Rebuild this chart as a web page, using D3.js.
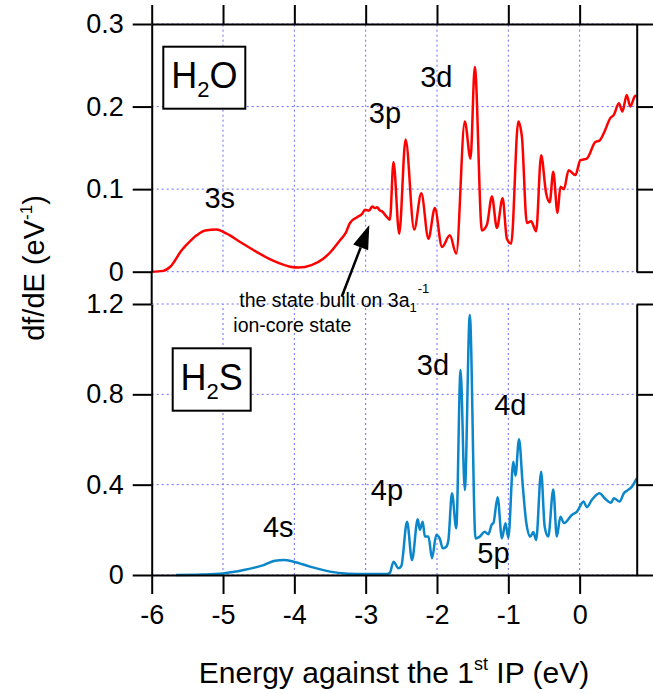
<!DOCTYPE html>
<html><head><meta charset="utf-8">
<script src="https://cdn.jsdelivr.net/npm/d3@7"></script>
<style>
body{margin:0;background:#fff}
text{font-family:"Liberation Sans",Arial,Helvetica,sans-serif;fill:#000}
</style>
</head><body><script>
// ---------- data ----------
const xTicks = [-6, -5, -4, -3, -2, -1, 0];
const yTicksTop = [0, 0.1, 0.2, 0.3];
const yTicksBottom = [0, 0.4, 0.8, 1.2];

const energyH2O = [-6.00,-5.84,-5.74,-5.58,-5.45,-5.37,-5.25,-5.09,-4.95,-4.76,-4.53,-4.29,-4.06,-3.94,-3.76,-3.59,-3.47,-3.36,-3.28,-3.22,-3.12,-3.05,-3.01,-2.95,-2.91,-2.87,-2.84,-2.80,-2.77,-2.70,-2.66,-2.61,-2.53,-2.44,-2.32,-2.22,-2.12,-2.03,-1.93,-1.82,-1.73,-1.61,-1.53,-1.47,-1.37,-1.30,-1.23,-1.16,-1.08,-1.02,-0.96,-0.86,-0.81,-0.74,-0.68,-0.61,-0.54,-0.47,-0.42,-0.37,-0.31,-0.27,-0.22,-0.155,-0.06,0.01,0.10,0.22,0.28,0.34,0.43,0.48,0.55,0.60,0.66,0.71,0.78,0.80];
const dfH2O = [0.000,0.001,0.006,0.026,0.038,0.044,0.050,0.051,0.046,0.036,0.024,0.013,0.006,0.005,0.008,0.016,0.026,0.038,0.047,0.059,0.066,0.070,0.075,0.074,0.079,0.077,0.078,0.074,0.073,0.066,0.063,0.133,0.046,0.160,0.051,0.095,0.040,0.077,0.030,0.044,0.022,0.182,0.137,0.248,0.050,0.057,0.091,0.053,0.089,0.040,0.034,0.182,0.164,0.059,0.061,0.049,0.141,0.095,0.084,0.121,0.071,0.103,0.100,0.123,0.117,0.135,0.137,0.157,0.159,0.168,0.186,0.190,0.204,0.194,0.214,0.200,0.213,0.212];

const energyH2S = [-5.66,-5.30,-5.00,-4.71,-4.43,-4.27,-4.15,-4.01,-3.78,-3.50,-3.25,-3.03,-2.70,-2.66,-2.61,-2.54,-2.50,-2.42,-2.35,-2.27,-2.24,-2.20,-2.17,-2.12,-2.07,-2.01,-1.96,-1.92,-1.87,-1.84,-1.79,-1.73,-1.67,-1.61,-1.54,-1.46,-1.40,-1.33,-1.28,-1.23,-1.21,-1.15,-1.09,-1.04,-1.00,-0.93,-0.90,-0.85,-0.80,-0.75,-0.69,-0.65,-0.61,-0.54,-0.49,-0.44,-0.37,-0.32,-0.27,-0.22,-0.11,-0.04,0.056,0.10,0.17,0.28,0.35,0.44,0.48,0.56,0.62,0.68,0.73,0.80];
const dfH2S = [0.000,0.002,0.007,0.022,0.044,0.063,0.066,0.059,0.037,0.015,0.006,0.004,0.004,0.010,0.059,0.030,0.040,0.236,0.066,0.247,0.200,0.236,0.170,0.170,0.074,0.177,0.160,0.118,0.125,0.155,0.362,0.207,0.908,0.376,1.151,0.162,0.170,0.192,0.180,0.225,0.229,0.344,0.162,0.229,0.165,0.502,0.440,0.601,0.406,0.236,0.170,0.190,0.155,0.457,0.214,0.170,0.379,0.170,0.258,0.230,0.266,0.280,0.325,0.300,0.332,0.362,0.340,0.320,0.340,0.325,0.362,0.377,0.390,0.428];

// ---------- setup ----------
const W = 653, H = 694;
const svg = d3.select("body").append("svg").attr("width", W).attr("height", H);
svg.append("rect").attr("width", W).attr("height", H).attr("fill", "#fff");

const x = d3.scaleLinear().domain([-6, 0.8]).range([151.7, 636.7]);
const yTop = d3.scaleLinear().domain([0, 0.3]).range([271.7, 24]);
const yBot = d3.scaleLinear().domain([0, 1.2]).range([575, 304]);

const gridColor = "#6b6bff";
function grid(y, yt) {
  const g = svg.append("g");
  g.selectAll("line.v").data(xTicks.filter(d => d !== -6)).join("line")
    .attr("x1", d => x(d)).attr("x2", d => x(d))
    .attr("y1", y.range()[0]).attr("y2", y.range()[1])
    .attr("stroke", gridColor).attr("stroke-width", 1).attr("stroke-dasharray", "2,3");
  g.selectAll("line.h").data(yt).join("line")
    .attr("x1", x.range()[0]).attr("x2", x.range()[1])
    .attr("y1", d => y(d)).attr("y2", d => y(d))
    .attr("stroke", gridColor).attr("stroke-width", 1).attr("stroke-dasharray", "2,3");
}
grid(yTop, yTicksTop);
grid(yBot, yTicksBottom);

// ---------- lines ----------
const h2o = energyH2O.map((e, i) => [e, dfH2O[i]]);
const h2s = energyH2S.map((e, i) => [e, dfH2S[i]]);
svg.append("path").datum(h2o)
  .attr("d", d3.line().x(d => x(d[0])).y(d => yTop(d[1])).curve(d3.curveMonotoneX))
  .attr("fill", "none").attr("stroke", "#ff0000").attr("stroke-width", 2.5).attr("stroke-linejoin", "round");
svg.append("path").datum(h2s)
  .attr("d", d3.line().x(d => x(d[0])).y(d => yBot(d[1])).curve(d3.curveMonotoneX))
  .attr("fill", "none").attr("stroke", "#0a86c9").attr("stroke-width", 2.5).attr("stroke-linejoin", "round");

// ---------- axes ----------
const fmt = d => d === 0 ? "0" : d.toFixed(1);
function style(g) {
  g.select(".domain").attr("stroke", "#000").attr("stroke-width", 2);
  g.selectAll(".tick line").attr("stroke", "#000").attr("stroke-width", 2);
  g.selectAll(".tick text").attr("font-size", 27).attr("fill", "#000")
    .attr("font-family", "'Liberation Sans',Arial,Helvetica,sans-serif");
}
svg.append("g").attr("transform", "translate(151.7,0)")
  .call(d3.axisLeft(yTop).tickValues(yTicksTop).tickSize(19).tickSizeOuter(0).tickPadding(9).tickFormat(fmt)).call(style);
svg.append("g").attr("transform", "translate(151.7,0)")
  .call(d3.axisLeft(yBot).tickValues(yTicksBottom).tickSize(19).tickSizeOuter(0).tickPadding(9).tickFormat(fmt)).call(style);
svg.append("g").attr("transform", "translate(636.7,0)")
  .call(d3.axisRight(yTop).tickValues(yTicksTop).tickSize(19).tickSizeOuter(0).tickFormat("")).call(style);
svg.append("g").attr("transform", "translate(636.7,0)")
  .call(d3.axisRight(yBot).tickValues(yTicksBottom).tickSize(19).tickSizeOuter(0).tickFormat("")).call(style);
svg.append("g").attr("transform", "translate(0,24)")
  .call(d3.axisTop(x).tickValues(xTicks).tickSize(19).tickSizeOuter(0).tickFormat("")).call(style);
svg.append("g").attr("transform", "translate(0,575)")
  .call(d3.axisBottom(x).tickValues(xTicks).tickSize(19).tickSizeOuter(0).tickPadding(11).tickFormat(d => String(d))).call(style);
// connect left axis across the gap
svg.append("line").attr("x1", x(-6)).attr("x2", x(-6)).attr("y1", yTop(0)).attr("y2", yBot(1.2))
  .attr("stroke", "#000").attr("stroke-width", 2);

// ---------- axis titles ----------
const yl = svg.append("text").attr("transform", "translate(44,268) rotate(-90)")
  .attr("text-anchor", "middle").attr("font-size", 29);
yl.append("tspan").text("df/dE (eV");
yl.append("tspan").attr("font-size", 17).attr("dy", -12).text("-1");
yl.append("tspan").attr("dy", 12).text(")");

const xl = svg.append("text").attr("x", 394).attr("y", 683).attr("text-anchor", "middle").attr("font-size", 30);
xl.append("tspan").text("Energy against the 1");
xl.append("tspan").attr("font-size", 18).attr("dy", -13).text("st");
xl.append("tspan").attr("dy", 13).text(" IP (eV)");

// ---------- molecule boxes ----------
function box(x0, y0, w, h, cx, by, main2) {
  svg.append("rect").attr("x", x0).attr("y", y0).attr("width", w).attr("height", h)
    .attr("fill", "#fff").attr("stroke", "#000").attr("stroke-width", 2);
  const t = svg.append("text").attr("x", cx).attr("y", by).attr("text-anchor", "middle").attr("font-size", 36);
  t.append("tspan").text("H");
  t.append("tspan").attr("font-size", 22).attr("dy", 9).text("2");
  t.append("tspan").attr("dy", -9).text(main2);
}
box(163.3, 46.7, 82, 62, 204.3, 87.5, "O");
box(172.7, 348.3, 78, 62.4, 211.7, 389.5, "S");

// ---------- peak labels ----------
const peakLabels = [
  ["3s", 219.7, 208.3], ["3p", 385, 123.3], ["3d", 436.3, 86.7],
  ["4s", 278.3, 536.7], ["4p", 387, 500], ["3d", 433, 375], ["4d", 510.3, 415], ["5p", 493.5, 563.3]
];
svg.selectAll("text.pk").data(peakLabels).join("text").attr("class", "pk")
  .attr("x", d => d[1]).attr("y", d => d[2]).attr("text-anchor", "middle").attr("font-size", 29).text(d => d[0]);

// ---------- arrow annotation ----------
const tail = [341.7, 296.7], tip = [369.3, 225];
const ang = Math.atan2(tip[1] - tail[1], tip[0] - tail[0]);
const hl = 24, hw = 8;
const base = [tip[0] - hl * Math.cos(ang), tip[1] - hl * Math.sin(ang)];
svg.append("line").attr("x1", tail[0]).attr("y1", tail[1]).attr("x2", base[0]).attr("y2", base[1])
  .attr("stroke", "#000").attr("stroke-width", 2.5);
svg.append("polygon").attr("fill", "#000").attr("points", [
  tip,
  [base[0] + hw * Math.sin(ang), base[1] - hw * Math.cos(ang)],
  [base[0] - hw * Math.sin(ang), base[1] + hw * Math.cos(ang)]
].map(p => p.join(",")).join(" "));

const a1 = svg.append("text").attr("x", 239.3).attr("y", 307).attr("font-size", 19.5);
a1.append("tspan").text("the state built on 3a");
a1.append("tspan").attr("font-size", 13).attr("dy", 5).text("1");
a1.append("tspan").attr("font-size", 13).attr("dx", 1).attr("dy", -19).text("-1");
svg.append("text").attr("x", 233.3).attr("y", 332).attr("font-size", 19.5).text("ion-core state");
</script></body></html>
